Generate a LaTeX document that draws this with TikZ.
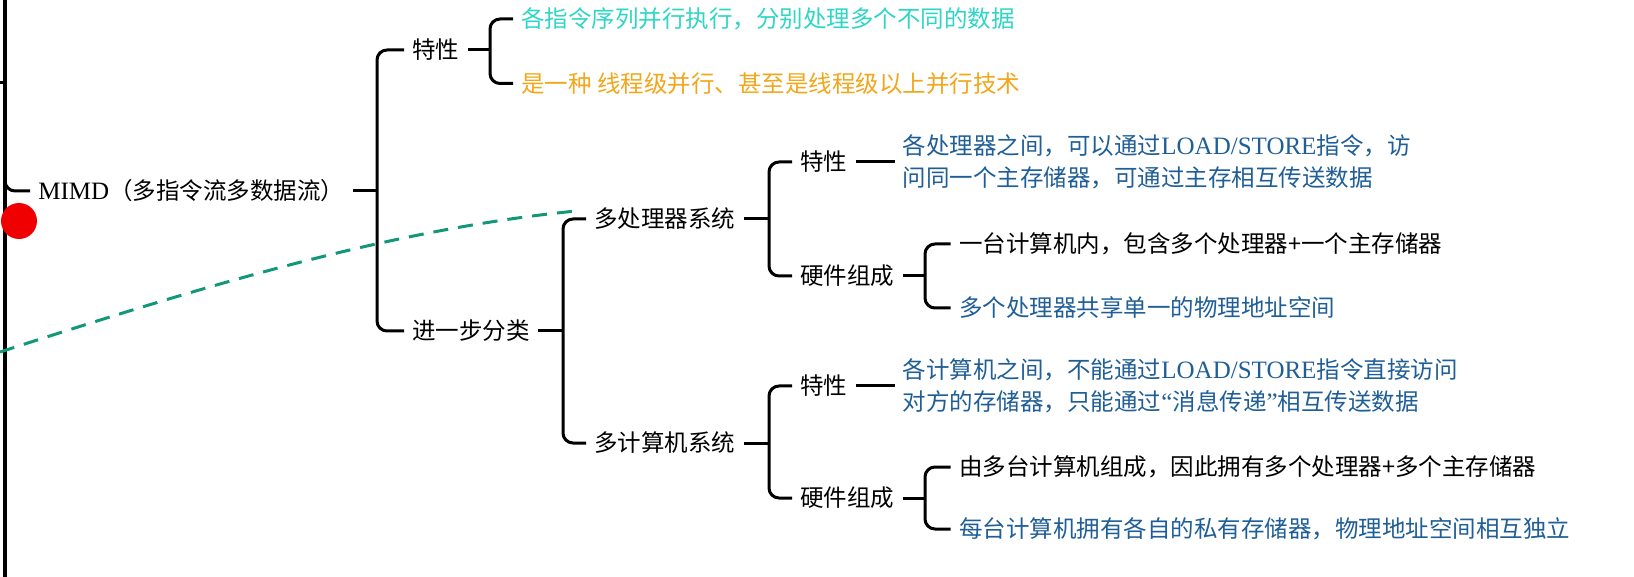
\documentclass[tikz,border=0pt]{standalone}
\usepackage{fontspec}
\newfontfamily\cjk{Noto Sans CJK SC}
\newfontfamily\serif{Liberation Serif}
\newcommand\asciitxt[1]{{\serif\fontsize{12.5}{16}\selectfont #1}}
\definecolor{cyantxt}{RGB}{47,213,197}
\definecolor{orangetxt}{RGB}{242,166,26}
\definecolor{bluetxt}{RGB}{31,94,150}
\definecolor{teal}{RGB}{19,151,121}
\definecolor{red}{RGB}{240,0,0}
\usepackage{tikz}

\begin{document}
\begin{tikzpicture}[x=0.5pt, y=-0.5pt,
    item/.style={anchor=west, inner xsep=4pt, inner ysep=2pt,
      font=\cjk\fontsize{11.75}{16}\selectfont, align=left},
    link/.style={line width=1.5pt, black},
    brace/.style={link, rounded corners=5pt},
    guide/.style={line width=1.5pt, teal, dash pattern=on 7.5pt off 5pt}]
  \useasboundingbox (0,0) rectangle (1634,577);
  %% Spine on the left
  \draw[line width=2pt] (5,0) -- (5,577);
  \draw[link] (0,83) -- (5,83);
  %% Root
  \node[item] (mimd) at (30,191) {\asciitxt{MIMD}（多指令流多数据流）};
  \draw[brace] (5,170) |- (mimd.west);
  %% First level
  \node[item] (tx1) at (404,50) {特性};
  \node[item] (fenlei) at (404,331) {进一步分类};
  \coordinate (j1) at (377,191);
  \draw[link] (mimd.east) -- (j1);
  \draw[brace] (tx1.west) -| (j1) |- (fenlei.west);
  %% Features
  \node[item, text=cyantxt] (td1) at (513,19) {各指令序列并行执行，分别处理多个不同的数据};
  \node[item, text=orangetxt] (td2) at (513,83.5) {是一种 线程级并行、甚至是线程级以上并行技术};
  \coordinate (j2) at (490,50);
  \draw[link] (tx1.east) -- (j2);
  \draw[brace] (td1.west) -| (j2) |- (td2.west);
  %% Further classification
  \node[item] (duochuli) at (586,219) {多处理器系统};
  \node[item] (duojisuan) at (586,443) {多计算机系统};
  \coordinate (j3) at (563,331);
  \draw[link] (fenlei.east) -- (j3);
  \draw[brace] (duochuli.west) -| (j3) |- (duojisuan.west);
  %% Multiprocessor system
  \node[item] (tx2) at (792,162) {特性};
  \node[item] (yj1) at (792,276) {硬件组成};
  \coordinate (j4) at (769,219);
  \draw[link] (duochuli.east) -- (j4);
  \draw[brace] (tx2.west) -| (j4) |- (yj1.west);
  \node[item, text=bluetxt] (ms1) at (894.5,162)
    {各处理器之间，可以通过\asciitxt{LOAD/STORE}指令，访\\问同一个主存储器，可通过主存相互传送数据};
  \draw[link] (tx2.east) -- (ms1.west);
  \node[item] (hw1) at (950.6,244) {一台计算机内，包含多个处理器+一个主存储器};
  \node[item, text=bluetxt] (hw2) at (950.6,308) {多个处理器共享单一的物理地址空间};
  \coordinate (j5) at (925,276);
  \draw[link] (yj1.east) -- (j5);
  \draw[brace] (hw1.west) -| (j5) |- (hw2.west);
  %% Multicomputer system
  \node[item] (tx3) at (792,386) {特性};
  \node[item] (yj2) at (792,498) {硬件组成};
  \coordinate (j6) at (769,443);
  \draw[link] (duojisuan.east) -- (j6);
  \draw[brace] (tx3.west) -| (j6) |- (yj2.west);
  \node[item, text=bluetxt] (ms2) at (894.5,386)
    {各计算机之间，不能通过\asciitxt{LOAD/STORE}指令直接访问\\对方的存储器，只能通过\asciitxt{“}消息传递\asciitxt{”}相互传送数据};
  \draw[link] (tx3.east) -- (ms2.west);
  \node[item] (hw3) at (950.6,467) {由多台计算机组成，因此拥有多个处理器+多个主存储器};
  \node[item, text=bluetxt] (hw4) at (950.6,529) {每台计算机拥有各自的私有存储器，物理地址空间相互独立};
  \coordinate (j7) at (925,498);
  \draw[link] (yj2.east) -- (j7);
  \draw[brace] (hw3.west) -| (j7) |- (hw4.west);
  %% Pointer marks
  \draw[guide] (0,352) .. controls (192,290) and (384,230) .. (576,211);
  \fill[red] (19,221) circle (9pt);
\end{tikzpicture}
\end{document}
